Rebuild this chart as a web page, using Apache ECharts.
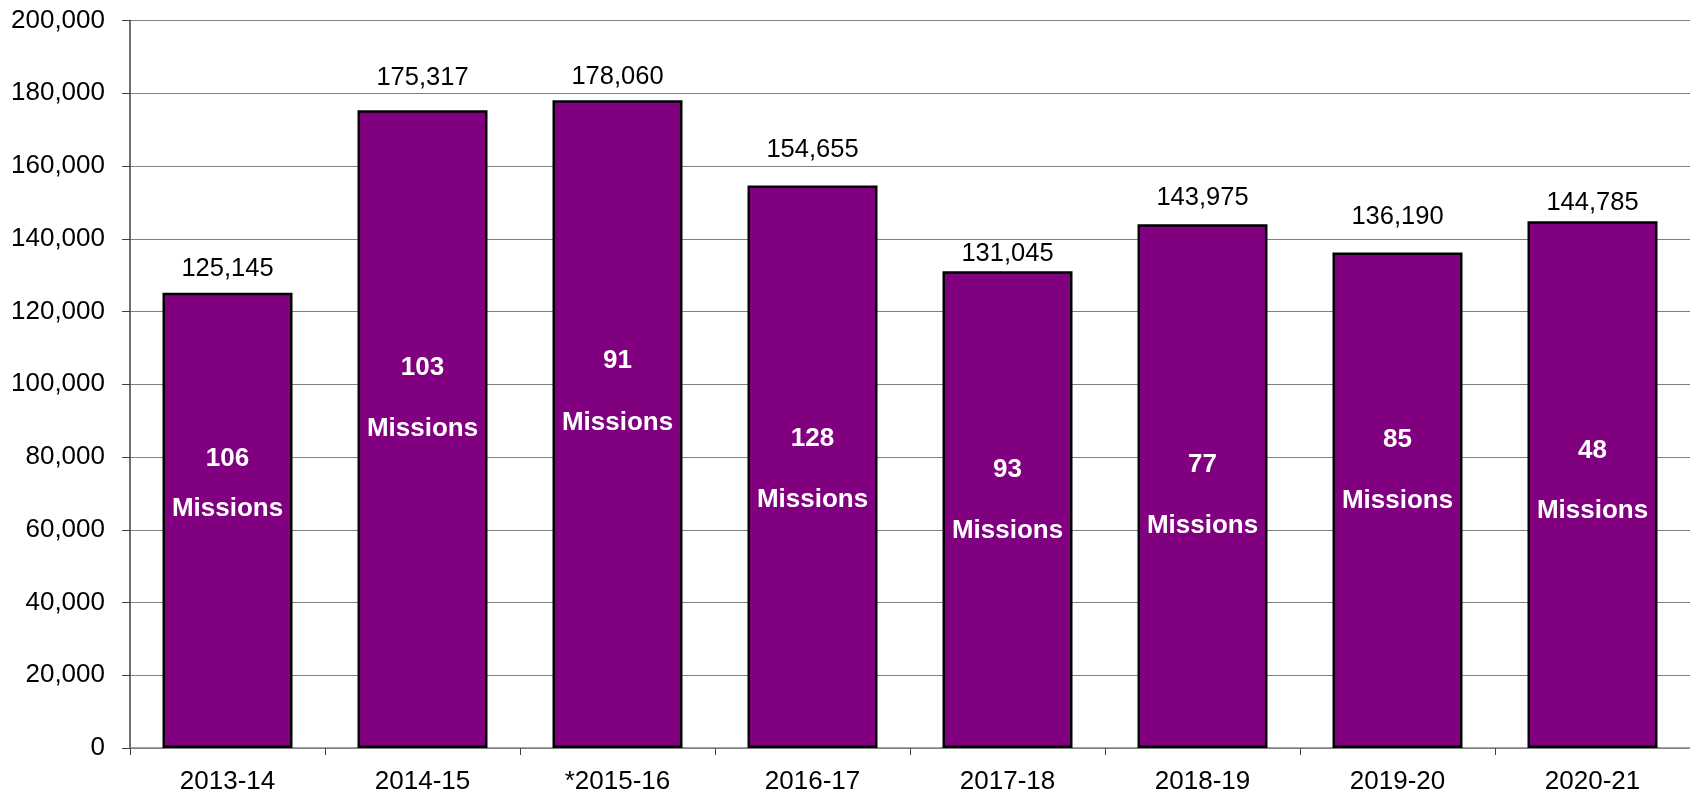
<!DOCTYPE html>
<html>
<head>
<meta charset="utf-8">
<script src="https://cdn.jsdelivr.net/npm/echarts@6/dist/echarts.min.js"></script>
<style>
html,body{margin:0;padding:0;background:#fff;}
#chart{width:1690px;height:795px;}
</style>
</head>
<body>
<div id="chart"></div>
<script>
// Data
const categories = ['2013-14','2014-15','*2015-16','2016-17','2017-18','2018-19','2019-20','2020-21'];
const volumes = [125145, 175317, 178060, 154655, 131045, 143975, 136190, 144785];
const missions = [106, 103, 91, 128, 93, 77, 85, 48];

// Label placement styling (offsets relative to default label positions)
const topLabelDistance = [11, 19, 10, 22, 4, 13, 23, 5];
const insideLabelShift = [-37, -31, -32, 3, -9, 9, -30, -4];
const insideLineGap = [50, 61, 62, 61, 61, 61, 61, 60];

const FONT = '"Liberation Sans", Arial, sans-serif';

const chart = echarts.init(document.getElementById('chart'), null, {renderer: 'canvas'});

const fmt = v => v.toLocaleString('en-US');

const barData = volumes.map((v, i) => ({
  value: v,
  label: {
    show: true,
    position: 'top',
    distance: topLabelDistance[i],
    formatter: fmt(v),
    color: '#000',
    fontSize: 25.5,
    fontFamily: FONT
  }
}));

const overlayData = volumes.map((v, i) => ({
  value: v,
  label: {
    show: true,
    position: 'inside',
    offset: [0, insideLabelShift[i]],
    formatter: missions[i] + '\nMissions',
    color: '#fff',
    fontSize: 26,
    fontWeight: 'bold',
    fontFamily: FONT,
    lineHeight: insideLineGap[i]
  }
}));

chart.setOption({
  animation: false,
  backgroundColor: '#fff',
  grid: {left: 130, right: 0, top: 20.5, bottom: 44.3, containLabel: false},
  xAxis: {
    type: 'category',
    data: categories,
    axisLine: {show: true, lineStyle: {color: '#808080', width: 1.5}},
    axisTick: {show: true, alignWithLabel: false, length: 7, lineStyle: {color: '#404040', width: 1}},
    axisLabel: {color: '#000', fontSize: 26, fontFamily: FONT, margin: 21},
    splitLine: {show: false}
  },
  yAxis: {
    type: 'value',
    min: 0,
    max: 200000,
    interval: 20000,
    axisLine: {show: true, lineStyle: {color: '#404040', width: 1.5}},
    axisTick: {show: true, length: 8, lineStyle: {color: '#404040', width: 1}},
    axisLabel: {color: '#000', fontSize: 26, fontFamily: FONT, margin: 25, formatter: v => fmt(v)},
    splitLine: {show: true, lineStyle: {color: '#808080', width: 1}}
  },
  series: [
    {
      type: 'bar',
      data: barData,
      barWidth: 130,
      itemStyle: {color: '#800080', borderColor: '#000', borderWidth: 2.5}
    },
    {
      type: 'bar',
      data: overlayData,
      barWidth: 130,
      barGap: '-100%',
      itemStyle: {color: 'rgba(0,0,0,0)', borderWidth: 0},
      silent: true
    }
  ]
});
</script>
</body>
</html>
